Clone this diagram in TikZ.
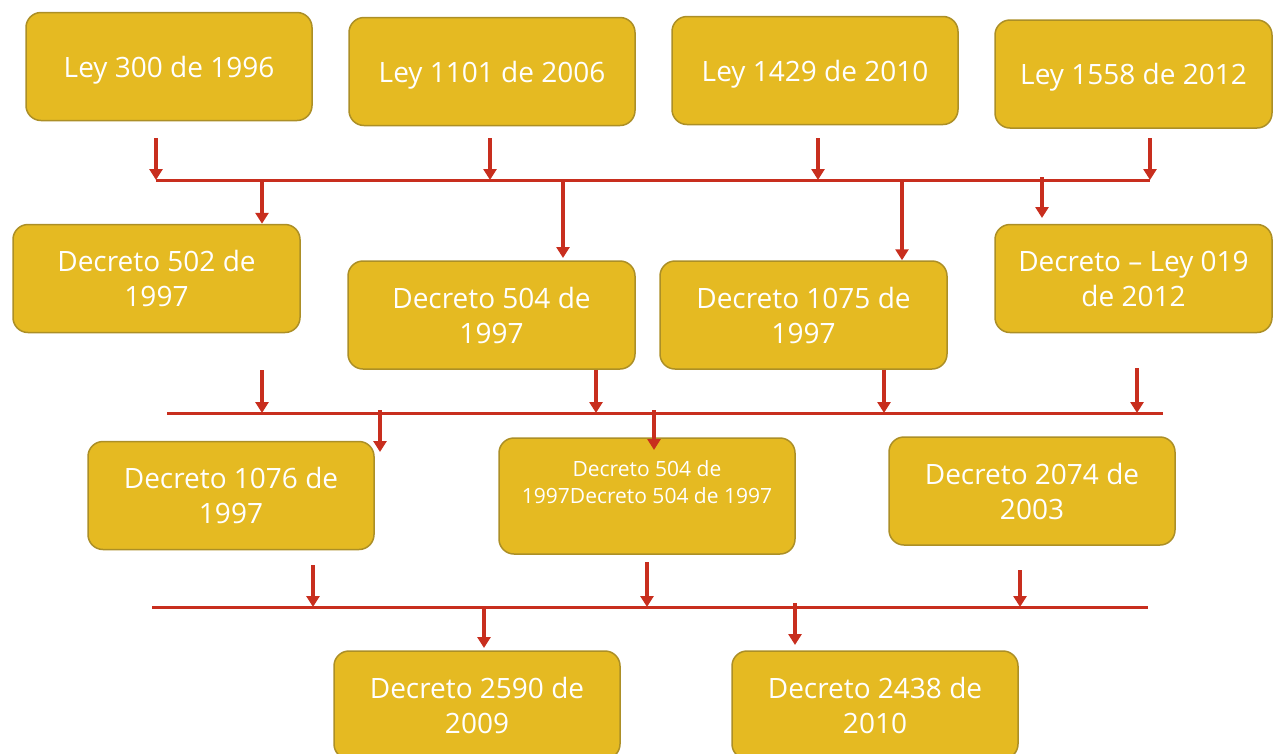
\documentclass[tikz,border=0pt]{standalone}
\usepackage{fontspec}
\setmainfont{Open Sans}
\usetikzlibrary{arrows.meta}
\definecolor{oro}{RGB}{229,186,34}
\definecolor{ororaya}{RGB}{172,143,38}
\definecolor{rojo}{RGB}{200,46,30}
\begin{document}
\begin{tikzpicture}[x=1pt,y=-1pt,
    caja/.style={draw=ororaya, line width=1.5pt, fill=oro, rounded corners=15pt,
      minimum width=286pt, minimum height=108pt, inner sep=0pt, align=center,
      text=white, font=\fontsize{28}{35}\selectfont},
    ley/.style={caja, text depth=0pt},
    flecha/.style={draw=rojo, line width=3.5pt, -{Triangle[width=13pt,length=11pt]}},
    barra/.style={draw=rojo, line width=3pt}]
    \useasboundingbox (0,0) rectangle (1273,753);

    % fila 1: leyes
    \node[ley] (ley300) at (169,66.5) {Ley 300 de 1996};
    \node[ley] (ley1101) at (492,71.5) {Ley 1101 de 2006};
    \node[ley] (ley1429) at (815,70.5) {Ley 1429 de 2010};
    \node[ley, minimum width=277pt] (ley1558) at (1133.5,74) {Ley 1558 de 2012};

    % fila 2
    \node[caja, minimum width=287pt] (dec502) at (156.5,278.5) {Decreto 502 de\\1997};
    \node[caja, minimum width=287pt] (dec504) at (491.5,315) {Decreto 504 de\\1997};
    \node[caja, minimum width=287pt] (dec1075) at (803.5,315) {Decreto 1075 de\\1997};
    \node[caja, minimum width=277pt] (dec019) at (1133.5,278.5) {Decreto – Ley 019\\de 2012};

    % fila 3
    \node[caja] (dec1076) at (231,495.5) {Decreto 1076 de\\1997};
    \node[caja, minimum width=296pt, minimum height=116pt, font=\fontsize{21}{27}\selectfont]
      (dec504b) at (647,496) {Decreto 504 de\\1997Decreto 504 de 1997\\\mbox{}};
    \node[caja] (dec2074) at (1032,491) {Decreto 2074 de\\2003};

    % fila 4
    \node[caja] (dec2590) at (477,705) {Decreto 2590 de\\2009};
    \node[caja] (dec2438) at (875,705) {Decreto 2438 de\\2010};

    % barra 1
    \coordinate (b1i) at (156,180);
    \coordinate (b1f) at (1150,180);
    \draw[barra] (b1i) -- (b1f);
    \draw[flecha] (156,138) -- (b1i);
    \draw[flecha] (490,138) -- (490,0 |- b1i);
    \draw[flecha] (818,138) -- (818,0 |- b1i);
    \draw[flecha] (1150,138) -- (b1f);
    \draw[flecha] (262,0 |- b1i) -- (262,0 |- dec502.north);
    \draw[flecha] (563,0 |- b1i) -- (563,258);
    \draw[flecha] (902,0 |- b1i) -- (902,0 |- dec1075.north);
    \draw[flecha] (1042,177) -- (1042,218);

    % barra 2
    \coordinate (b2i) at (167,413);
    \coordinate (b2f) at (1163,413);
    \draw[barra] (b2i) -- (b2f);
    \draw[flecha] (262,370) -- (262,0 |- b2i);
    \draw[flecha] (596,0 |- dec504.south) -- (596,0 |- b2i);
    \draw[flecha] (884,0 |- dec1075.south) -- (884,0 |- b2i);
    \draw[flecha] (1137,368) -- (1137,0 |- b2i);
    \draw[flecha] (380,410) -- (380,452);
    \draw[flecha] (654,410) -- (654,450);

    % barra 3
    \coordinate (b3i) at (152,607);
    \coordinate (b3f) at (1148,607);
    \draw[barra] (b3i) -- (b3f);
    \draw[flecha] (313,565) -- (313,0 |- b3i);
    \draw[flecha] (647,562) -- (647,0 |- b3i);
    \draw[flecha] (1020,570) -- (1020,0 |- b3i);
    \draw[flecha] (484,0 |- b3i) -- (484,648);
    \draw[flecha] (795,603) -- (795,645);
\end{tikzpicture}
\end{document}
